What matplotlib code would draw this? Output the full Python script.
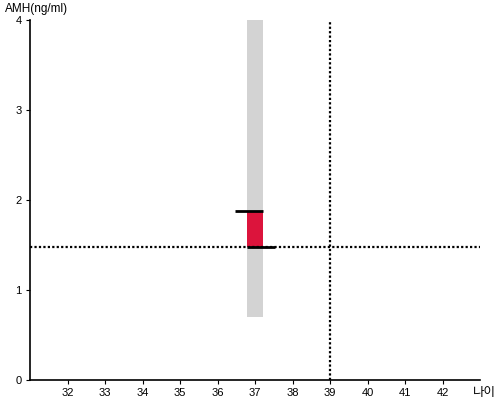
import matplotlib
matplotlib.use("Agg")
import matplotlib.pyplot as plt

plt.rcParams['font.family'] = ['Liberation Sans', 'Noto Sans CJK KR', 'DejaVu Sans']

x_ticks = [32, 33, 34, 35, 36, 37, 38, 39, 40, 41, 42]
y_ticks = [0, 1, 2, 3, 4]
age = 37
range_low, range_high = 0.7, 4.0
amh_ref = 1.48
amh_value = 1.88
ref_age = 39

fig = plt.figure(figsize=(5, 4), dpi=100)
ax = fig.add_axes([30/500, 20/400, 450/500, 360/400])
ax.set_xlim(31, 43)
ax.set_ylim(0, 4)

w = 0.43
ax.bar([age], [range_high - range_low], bottom=[range_low], width=w, color='#d3d3d3', zorder=1)
ax.bar([age], [amh_value - amh_ref], bottom=[amh_ref], width=w, color='#dc143c', zorder=2)
ax.plot([age - w/2 - 0.32, age + w/2], [amh_value, amh_value], color='black', lw=2, zorder=3, solid_capstyle='butt')
ax.plot([age - w/2, age + w/2 + 0.32], [amh_ref, amh_ref], color='black', lw=2, zorder=3, solid_capstyle='butt')
ax.axhline(amh_ref, color='black', lw=1.6, ls=(0, (1, 1)), zorder=2)
ax.axvline(ref_age, color='black', lw=1.6, ls=(0, (1, 1)), zorder=2)

ax.set_xticks(x_ticks)
ax.set_yticks(y_ticks)
ax.tick_params(labelsize=8, length=3, width=0.8, color='black', pad=3)
for s in ['top', 'right']:
    ax.spines[s].set_visible(False)
for s in ['left', 'bottom']:
    ax.spines[s].set_linewidth(1.2)

fig.text(5/500, 1 - 9/400, 'AMH(ng/ml)', fontsize=8.5, va='center', ha='left')
fig.text(473/500, 1 - 393/400, '나이', fontsize=9, va='center', ha='left')

fig.savefig('out.png', dpi=100)
